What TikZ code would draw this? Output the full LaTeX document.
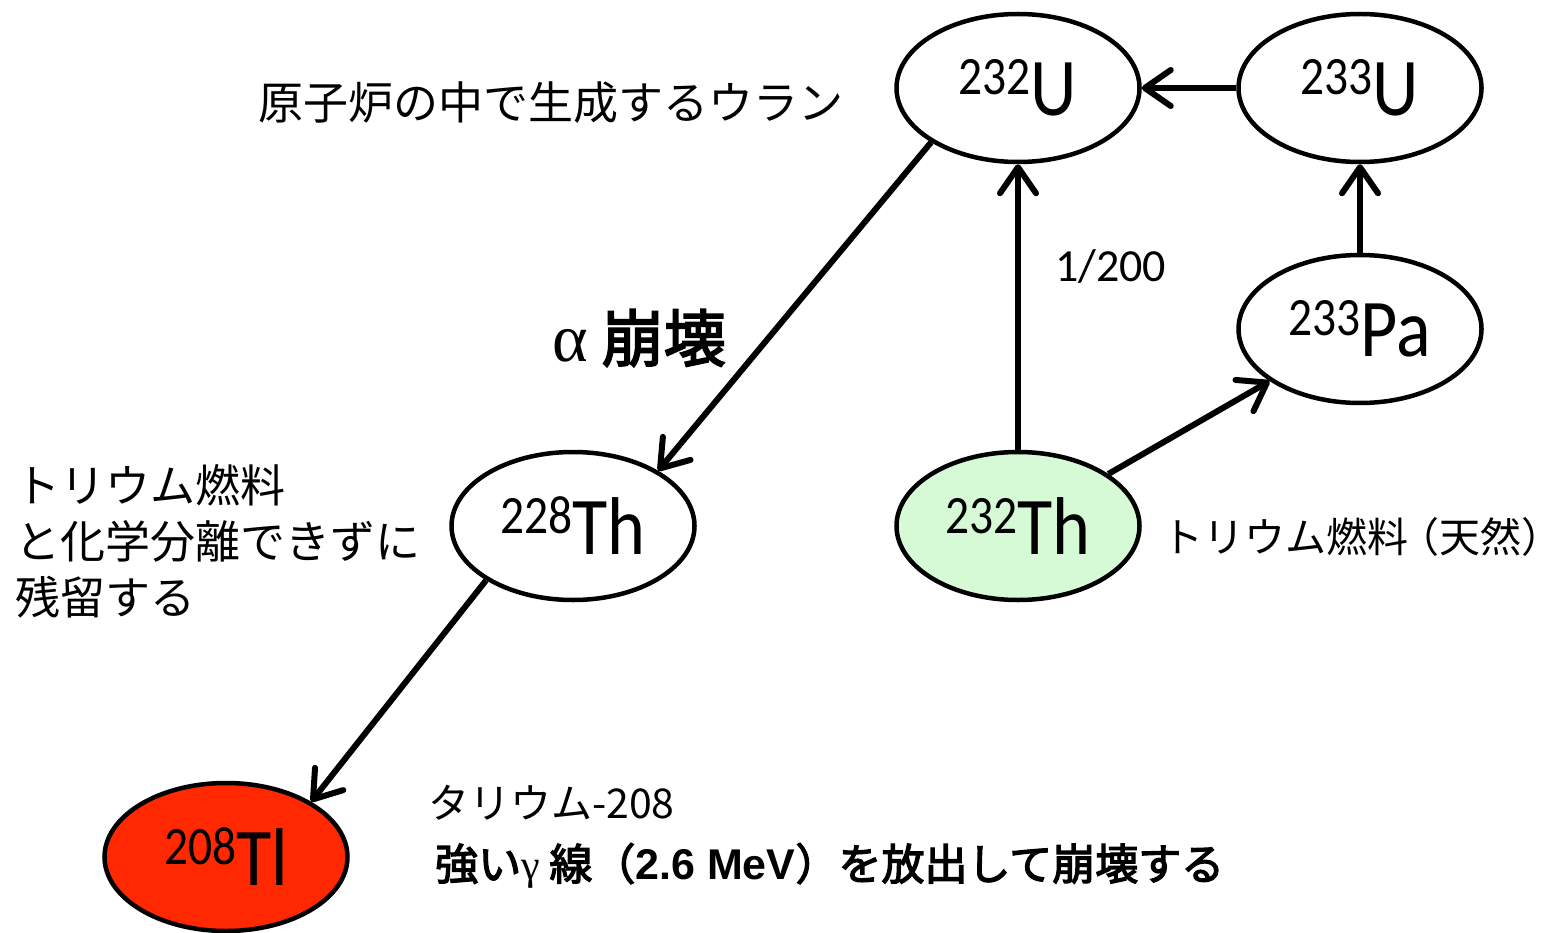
\documentclass[tikz,border=0pt]{standalone}
\usepackage{fontspec}
\usetikzlibrary{arrows.meta,shapes.geometric}
\newfontfamily\jpfont{Noto Sans CJK JP}[AutoFakeBold=3]
\newfontfamily\calfont{Carlito}
\newfontfamily\calnarrow{Carlito}[FakeStretch=0.88]
\newfontfamily\gkfont{Liberation Serif}
\newfontfamily\arfont{Liberation Sans}
\definecolor{thgreen}{RGB}{213,250,213}
\definecolor{tlred}{RGB}{255,40,0}
\newcommand{\nuc}[2]{{\calnarrow\fontsize{54}{54}\selectfont\raisebox{21pt}{#1}}{\calnarrow\fontsize{82}{82}\selectfont #2}}
\tikzset{
  nucl/.style={draw=black, line width=4.5pt, ellipse, minimum width=243pt, minimum height=148pt, inner sep=0pt},
  conn/.style={line width=6pt, -{Straight Barb[length=26pt,width=36pt,line cap=round,line join=round]}},
  lbl/.style={anchor=west, inner sep=0pt, font=\jpfont\fontsize{45}{56}\selectfont, align=left}
}
\begin{document}
\begin{tikzpicture}[x=1pt,y=-1pt]
\useasboundingbox (0,0) rectangle (1563,933);
% nuclides
\node[nucl] (u232) at (1018,88) {\nuc{232}{U}};
\node[nucl] (u233) at (1360,88) {\nuc{233}{U}};
\node[nucl] (pa233) at (1360,329) {\nuc{233}{Pa}};
\node[nucl, fill=thgreen] (th232) at (1018,526) {\nuc{232}{Th}};
\node[nucl] (th228) at (573,526) {\nuc{228}{Th}};
\node[nucl, fill=tlred] (tl208) at (226,857) {\nuc{208}{Tl}};
% connectors
\draw[conn] (u233) -- (u232);
\draw[conn] (pa233.north) -- (u233.south);
\draw[conn] (th232.north) -- (u232.south);
\draw[conn] (th232) -- (pa233);
\draw[conn] (u232.212) -- (th228.33);
\draw[conn] (th228.212) -- (tl208.33);
% labels
\node[lbl] (l1) at (258,103) {原子炉の中で生成するウラン};
\node[lbl, font=\calfont\fontsize{46}{46}\selectfont] (l2) at (1055,267) {1/200};
\node[lbl, font=\jpfont\bfseries\fontsize{62}{62}\selectfont] (l3) at (552,338) {{\gkfont\mdseries\fontsize{68}{68}\selectfont α} 崩壊};
\node[lbl] (l4) at (15,541) {トリウム燃料\\と化学分離できずに\\残留する};
\node[lbl, font=\jpfont\fontsize{41}{41}\selectfont] (l5) at (1162,537) {トリウム燃料\kern-10pt（天然）};
\node[lbl, font=\jpfont\fontsize{41}{41}\selectfont] (l6) at (428,803) {タリウム-208};
\node[lbl, font=\jpfont\bfseries\fontsize{43}{43}\selectfont] (l7) at (435,866) {強い{\gkfont\mdseries\fontsize{42}{42}\selectfont γ} 線（{\arfont\bfseries 2.6 MeV}）を放出して崩壊する};
\end{tikzpicture}
\end{document}
